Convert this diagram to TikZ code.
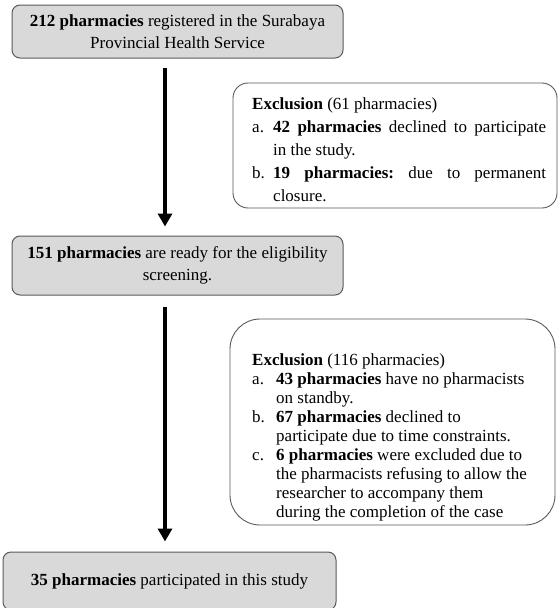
\documentclass[tikz,border=0pt]{standalone}
\usepackage{fontspec}
\setmainfont{Liberation Serif}
\usetikzlibrary{arrows.meta}
\definecolor{boxgray}{HTML}{D9D9D9}
\definecolor{edgegray}{HTML}{5A5A5A}
\frenchspacing
\begin{document}
\begin{tikzpicture}[x=1pt,y=-1pt,
  mainbox/.style={draw=edgegray, line width=1pt, fill=boxgray, rounded corners=8pt,
    inner sep=0pt, align=center, font=\fontsize{17}{22}\selectfont},
  exbox/.style={draw=edgegray, line width=0.9pt, fill=white, inner sep=0pt},
  extext/.style={anchor=base west, inner sep=0pt},
  flow/.style={line width=4pt, -{Triangle[width=14pt,length=13pt]}}]
\useasboundingbox (0,0) rectangle (558,608);
\fill[white] (0,0) rectangle (558,608);

\node[mainbox, minimum width=331pt, minimum height=53pt] (b1) at (177.5,31.5)
  {\textbf{212 pharmacies} registered in the Surabaya\\Provincial Health Service};
\node[mainbox, minimum width=331pt, minimum height=59pt] (b2) at (177.5,265.5)
  {\textbf{151 pharmacies} are ready for the eligibility\\screening.};
\node[mainbox, minimum width=333pt, minimum height=58pt] (b3) at (169.5,581)
  {\textbf{35 pharmacies} participated in this study};

\node[exbox, rounded corners=15pt, minimum width=324pt, minimum height=125pt] (ex1) at (395,145.5) {};
\node[extext] (ex1t) at (252,109) {%
  \begin{minipage}[t]{294pt}\fontsize{17}{23}\selectfont\frenchspacing
  \noindent\textbf{Exclusion} (61 pharmacies)\par
  \hangindent=21pt\hangafter=1\noindent\makebox[21pt][l]{a.}\textbf{42 pharmacies} declined to participate\linebreak in the study.\par
  \hangindent=21pt\hangafter=1\noindent\makebox[21pt][l]{b.}\textbf{19 pharmacies:} due to permanent\linebreak closure.\par
  \end{minipage}};

\node[exbox, rounded corners=30pt, minimum width=325pt, minimum height=206pt] (ex2) at (392.5,422) {};
\node[extext] (ex2t) at (252,365) {%
  \begin{minipage}[t]{300pt}\fontsize{17}{19}\selectfont\raggedright\frenchspacing
  \noindent\textbf{Exclusion} (116 pharmacies)\par
  \hangindent=24pt\hangafter=1\noindent\makebox[24pt][l]{a.}\textbf{43 pharmacies} have no pharmacists\hfil\break on standby.\par
  \hangindent=24pt\hangafter=1\noindent\makebox[24pt][l]{b.}\textbf{67 pharmacies} declined to\hfil\break participate due to time constraints.\par
  \hangindent=24pt\hangafter=1\noindent\makebox[24pt][l]{c.}\textbf{6 pharmacies} were excluded due to\hfil\break the pharmacists refusing to allow the\hfil\break researcher to accompany them\hfil\break during the completion of the case\par
  \end{minipage}};

\coordinate (ax) at (165,0);
\draw[flow, shorten <=9pt, shorten >=9pt] (b1.south -| ax) -- (b2.north -| ax);
\draw[flow, shorten <=11pt, shorten >=10pt] (b2.south -| ax) -- (b3.north -| ax);
\end{tikzpicture}
\end{document}
